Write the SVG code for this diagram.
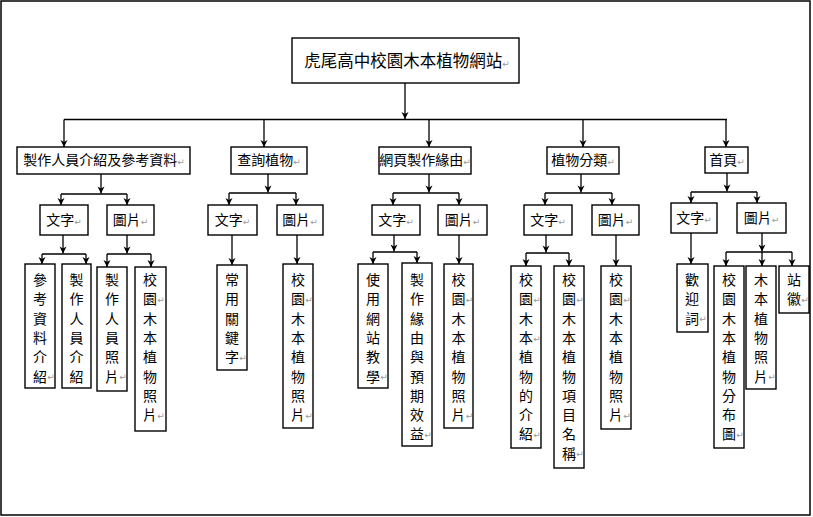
<svg xmlns="http://www.w3.org/2000/svg" width="813" height="517" viewBox="0 0 813 517">
<style>
.box{fill:#fff;stroke:#000;stroke-width:1.4}
.t{font-family:"Noto Sans CJK TC","Noto Sans CJK SC",sans-serif;fill:#000;text-anchor:middle}
.h1{font-size:14px}
.v{font-size:14px}
.pm{font-family:"DejaVu Sans",sans-serif;fill:#999;font-size:9px}
.c{fill:none;stroke:#000;stroke-width:1.3}
.a{marker-end:url(#arr)}
</style>
<defs>
<marker id="arr" markerUnits="userSpaceOnUse" markerWidth="10" markerHeight="10" refX="0" refY="0" viewBox="-8 -5 9 10" orient="auto">
<path d="M0,0 L-7,-3.5 L-5,0 L-7,3.5 z" fill="#000"/>
</marker>
</defs>
<rect x="1" y="1" width="809" height="514" fill="#fff" stroke="#000" stroke-width="1.5"/>

<g id="connectors">
<path class="c a" d="M405,83 V119"/>
<path class="c" d="M64,119.5 H727"/>
<path class="c a" d="M64,119.5 V147"/>
<path class="c a" d="M264,119.5 V147"/>
<path class="c a" d="M429,119.5 V147"/>
<path class="c a" d="M583,119.5 V147"/>
<path class="c a" d="M726,119.5 V147"/>

<path class="c a" d="M101,174 V193.5"/>
<path class="c" d="M61,194 H127"/>
<path class="c a" d="M61,194 V205"/>
<path class="c a" d="M127,194 V205"/>

<path class="c a" d="M268,174 V192.5"/>
<path class="c" d="M229,193 H296"/>
<path class="c a" d="M229,193 V205"/>
<path class="c a" d="M296,193 V205"/>

<path class="c a" d="M429,174 V192.5"/>
<path class="c" d="M393,193 H459"/>
<path class="c a" d="M393,193 V205"/>
<path class="c a" d="M459,193 V205"/>

<path class="c a" d="M581,174 V192.5"/>
<path class="c" d="M545,193 H612"/>
<path class="c a" d="M545,193 V205"/>
<path class="c a" d="M612,193 V205"/>

<path class="c a" d="M727,173 V191.5"/>
<path class="c" d="M691,192 H757"/>
<path class="c a" d="M691,192 V203"/>
<path class="c a" d="M757,192 V203"/>

<path class="c a" d="M63,235 V253.5"/>
<path class="c" d="M42,254 H86"/>
<path class="c a" d="M42,254 V264"/>
<path class="c a" d="M86,254 V264"/>

<path class="c a" d="M127,235 V253.5"/>
<path class="c" d="M107,254 H151"/>
<path class="c a" d="M107,254 V267"/>
<path class="c a" d="M151,254 V267"/>

<path class="c a" d="M232,235 V265"/>
<path class="c a" d="M297,235 V264"/>

<path class="c a" d="M394,235 V251.5"/>
<path class="c" d="M373,252 H417"/>
<path class="c a" d="M373,252 V264"/>
<path class="c a" d="M417,252 V263"/>

<path class="c a" d="M459,235 V264"/>

<path class="c a" d="M546,235 V252.5"/>
<path class="c" d="M526,253 H569"/>
<path class="c a" d="M526,253 V266"/>
<path class="c a" d="M569,253 V266"/>

<path class="c a" d="M616,235 V266"/>
<path class="c a" d="M691,233 V264"/>

<path class="c a" d="M762,233 V251.5"/>
<path class="c" d="M726,252 H792"/>
<path class="c a" d="M726,252 V266"/>
<path class="c a" d="M762,252 V266"/>
<path class="c a" d="M792,252 V266"/>
</g>

<g id="n-root">
<rect class="box" x="292" y="38" width="227" height="45"/>
<text class="t" x="407" y="67" font-size="16.5px">虎尾高中校園木本植物網站<tspan class="pm">↵</tspan></text>
</g>

<g id="n-staff">
<rect class="box" x="17" y="147" width="173" height="27"/>
<text class="t h1" x="104" y="165">製作人員介紹及參考資料<tspan class="pm">↵</tspan></text>
</g>
<g id="n-search">
<rect class="box" x="231" y="147" width="76" height="27"/>
<text class="t h1" x="269" y="165">查詢植物<tspan class="pm">↵</tspan></text>
</g>
<g id="n-reason">
<rect class="box" x="379" y="147" width="92" height="27"/>
<text class="t h1" x="425" y="165">網頁製作緣由<tspan class="pm">↵</tspan></text>
</g>
<g id="n-class">
<rect class="box" x="547" y="147" width="72" height="27"/>
<text class="t h1" x="583" y="165">植物分類<tspan class="pm">↵</tspan></text>
</g>
<g id="n-home">
<rect class="box" x="705" y="147" width="43" height="26"/>
<text class="t h1" x="727" y="165">首頁<tspan class="pm">↵</tspan></text>
</g>

<g id="n-staff-text"><rect class="box" x="40" y="205" width="48" height="30"/><text class="t h1" x="64" y="225">文字<tspan class="pm">↵</tspan></text></g>
<g id="n-staff-img"><rect class="box" x="107" y="205" width="47" height="30"/><text class="t h1" x="130.5" y="225">圖片<tspan class="pm">↵</tspan></text></g>
<g id="n-search-text"><rect class="box" x="208" y="205" width="49" height="30"/><text class="t h1" x="232.5" y="225">文字<tspan class="pm">↵</tspan></text></g>
<g id="n-search-img"><rect class="box" x="277" y="205" width="46" height="30"/><text class="t h1" x="300" y="225">圖片<tspan class="pm">↵</tspan></text></g>
<g id="n-reason-text"><rect class="box" x="372" y="205" width="48" height="30"/><text class="t h1" x="396" y="225">文字<tspan class="pm">↵</tspan></text></g>
<g id="n-reason-img"><rect class="box" x="438" y="205" width="49" height="30"/><text class="t h1" x="462.5" y="225">圖片<tspan class="pm">↵</tspan></text></g>
<g id="n-class-text"><rect class="box" x="524" y="205" width="48" height="30"/><text class="t h1" x="548" y="225">文字<tspan class="pm">↵</tspan></text></g>
<g id="n-class-img"><rect class="box" x="592" y="205" width="47" height="30"/><text class="t h1" x="615.5" y="225">圖片<tspan class="pm">↵</tspan></text></g>
<g id="n-home-text"><rect class="box" x="671" y="203" width="46" height="30"/><text class="t h1" x="694" y="223">文字<tspan class="pm">↵</tspan></text></g>
<g id="n-home-img"><rect class="box" x="737" y="203" width="49" height="30"/><text class="t h1" x="761.5" y="223">圖片<tspan class="pm">↵</tspan></text></g>

<g id="n-ref-intro"><rect class="box" x="25" y="264" width="30" height="124"/>
<text class="t v"><tspan x="40" y="285">參</tspan><tspan x="40" y="304.3">考</tspan><tspan x="40" y="323.6">資</tspan><tspan x="40" y="342.9">料</tspan><tspan x="40" y="362.2">介</tspan><tspan x="40" y="381.5">紹</tspan><tspan class="pm" x="51" y="380">↵</tspan></text></g>

<g id="n-staff-intro"><rect class="box" x="62" y="264" width="29" height="124"/>
<text class="t v"><tspan x="76.5" y="285">製</tspan><tspan x="76.5" y="304.3">作</tspan><tspan x="76.5" y="323.6">人</tspan><tspan x="76.5" y="342.9">員</tspan><tspan x="76.5" y="362.2">介</tspan><tspan x="76.5" y="381.5">紹</tspan></text></g>

<g id="n-staff-photo"><rect class="box" x="97" y="267" width="30" height="124"/>
<text class="t v"><tspan x="112" y="285">製</tspan><tspan x="112" y="304.3">作</tspan><tspan x="112" y="323.6">人</tspan><tspan x="112" y="342.9">員</tspan><tspan x="112" y="362.2">照</tspan><tspan x="112" y="381.5">片</tspan><tspan class="pm" x="123" y="380">↵</tspan></text></g>

<g id="n-staff-plant-photo"><rect class="box" x="135" y="267" width="31" height="164"/>
<text class="t v"><tspan x="150" y="285">校</tspan><tspan x="150" y="304.3">園</tspan><tspan class="pm" x="161" y="303">↵</tspan><tspan x="150" y="323.6">木</tspan><tspan x="150" y="342.9">本</tspan><tspan x="150" y="362.2">植</tspan><tspan x="150" y="381.5">物</tspan><tspan x="150" y="400.8">照</tspan><tspan x="150" y="420.1">片</tspan><tspan class="pm" x="161" y="419">↵</tspan></text></g>

<g id="n-keyword"><rect class="box" x="217" y="265" width="30" height="105"/>
<text class="t v"><tspan x="232" y="285">常</tspan><tspan x="232" y="304.3">用</tspan><tspan x="232" y="323.6">關</tspan><tspan x="232" y="342.9">鍵</tspan><tspan x="232" y="362.2">字</tspan><tspan class="pm" x="243" y="361">↵</tspan></text></g>

<g id="n-search-plant-photo"><rect class="box" x="283" y="264" width="30" height="164"/>
<text class="t v"><tspan x="298" y="285">校</tspan><tspan x="298" y="304.3">園</tspan><tspan class="pm" x="309" y="303">↵</tspan><tspan x="298" y="323.6">木</tspan><tspan x="298" y="342.9">本</tspan><tspan x="298" y="362.2">植</tspan><tspan x="298" y="381.5">物</tspan><tspan x="298" y="400.8">照</tspan><tspan x="298" y="420.1">片</tspan><tspan class="pm" x="309" y="419">↵</tspan></text></g>

<g id="n-tutorial"><rect class="box" x="358" y="264" width="30" height="124"/>
<text class="t v"><tspan x="373" y="285">使</tspan><tspan x="373" y="304.3">用</tspan><tspan x="373" y="323.6">網</tspan><tspan x="373" y="342.9">站</tspan><tspan x="373" y="362.2">教</tspan><tspan x="373" y="381.5">學</tspan><tspan class="pm" x="384" y="380">↵</tspan></text></g>

<g id="n-benefit"><rect class="box" x="402" y="263" width="30" height="183"/>
<text class="t v"><tspan x="417" y="285">製</tspan><tspan x="417" y="304.3">作</tspan><tspan x="417" y="323.6">緣</tspan><tspan x="417" y="342.9">由</tspan><tspan x="417" y="362.2">與</tspan><tspan x="417" y="381.5">預</tspan><tspan x="417" y="400.8">期</tspan><tspan x="417" y="420.1">效</tspan><tspan x="417" y="439.4">益</tspan><tspan class="pm" x="428" y="438">↵</tspan></text></g>

<g id="n-reason-plant-photo"><rect class="box" x="444" y="264" width="29" height="164"/>
<text class="t v"><tspan x="458.5" y="285">校</tspan><tspan x="458.5" y="304.3">園</tspan><tspan class="pm" x="469.5" y="303">↵</tspan><tspan x="458.5" y="323.6">木</tspan><tspan x="458.5" y="342.9">本</tspan><tspan x="458.5" y="362.2">植</tspan><tspan x="458.5" y="381.5">物</tspan><tspan x="458.5" y="400.8">照</tspan><tspan x="458.5" y="420.1">片</tspan><tspan class="pm" x="469.5" y="419">↵</tspan></text></g>

<g id="n-plant-intro"><rect class="box" x="511" y="266" width="30" height="182"/>
<text class="t v"><tspan x="526" y="285">校</tspan><tspan x="526" y="304.3">園</tspan><tspan class="pm" x="537" y="303">↵</tspan><tspan x="526" y="323.6">木</tspan><tspan x="526" y="342.9">本</tspan><tspan class="pm" x="537" y="341.5">↵</tspan><tspan x="526" y="362.2">植</tspan><tspan x="526" y="381.5">物</tspan><tspan x="526" y="400.8">的</tspan><tspan x="526" y="420.1">介</tspan><tspan x="526" y="439.4">紹</tspan><tspan class="pm" x="537" y="438">↵</tspan></text></g>

<g id="n-plant-names"><rect class="box" x="554" y="266" width="30" height="202"/>
<text class="t v"><tspan x="569" y="285">校</tspan><tspan x="569" y="304.3">園</tspan><tspan class="pm" x="580" y="303">↵</tspan><tspan x="569" y="323.6">木</tspan><tspan x="569" y="342.9">本</tspan><tspan x="569" y="362.2">植</tspan><tspan x="569" y="381.5">物</tspan><tspan x="569" y="400.8">項</tspan><tspan x="569" y="420.1">目</tspan><tspan x="569" y="439.4">名</tspan><tspan x="569" y="458.7">稱</tspan><tspan class="pm" x="580" y="457">↵</tspan></text></g>

<g id="n-class-plant-photo"><rect class="box" x="601" y="266" width="30" height="163"/>
<text class="t v"><tspan x="616" y="285">校</tspan><tspan x="616" y="304.3">園</tspan><tspan class="pm" x="627" y="303">↵</tspan><tspan x="616" y="323.6">木</tspan><tspan x="616" y="342.9">本</tspan><tspan x="616" y="362.2">植</tspan><tspan x="616" y="381.5">物</tspan><tspan x="616" y="400.8">照</tspan><tspan x="616" y="420.1">片</tspan><tspan class="pm" x="627" y="419">↵</tspan></text></g>

<g id="n-welcome"><rect class="box" x="677" y="264" width="31" height="68"/>
<text class="t v"><tspan x="692" y="285">歡</tspan><tspan x="692" y="304.3">迎</tspan><tspan x="692" y="323.6">詞</tspan><tspan class="pm" x="703" y="322">↵</tspan></text></g>

<g id="n-distribution"><rect class="box" x="714" y="266" width="30" height="182"/>
<text class="t v"><tspan x="729" y="285">校</tspan><tspan x="729" y="304.3">園</tspan><tspan x="729" y="323.6">木</tspan><tspan x="729" y="342.9">本</tspan><tspan x="729" y="362.2">植</tspan><tspan x="729" y="381.5">物</tspan><tspan x="729" y="400.8">分</tspan><tspan x="729" y="420.1">布</tspan><tspan x="729" y="439.4">圖</tspan><tspan class="pm" x="740" y="438">↵</tspan></text></g>

<g id="n-woody-photo"><rect class="box" x="746" y="266" width="30" height="123"/>
<text class="t v"><tspan x="761" y="285">木</tspan><tspan x="761" y="304.3">本</tspan><tspan x="761" y="323.6">植</tspan><tspan x="761" y="342.9">物</tspan><tspan x="761" y="362.2">照</tspan><tspan x="761" y="381.5">片</tspan><tspan class="pm" x="772" y="380">↵</tspan></text></g>

<g id="n-logo"><rect class="box" x="779" y="266" width="30" height="47"/>
<text class="t v"><tspan x="794" y="285">站</tspan><tspan x="794" y="304.3">徽</tspan><tspan class="pm" x="805" y="303">↵</tspan></text></g>
</svg>
